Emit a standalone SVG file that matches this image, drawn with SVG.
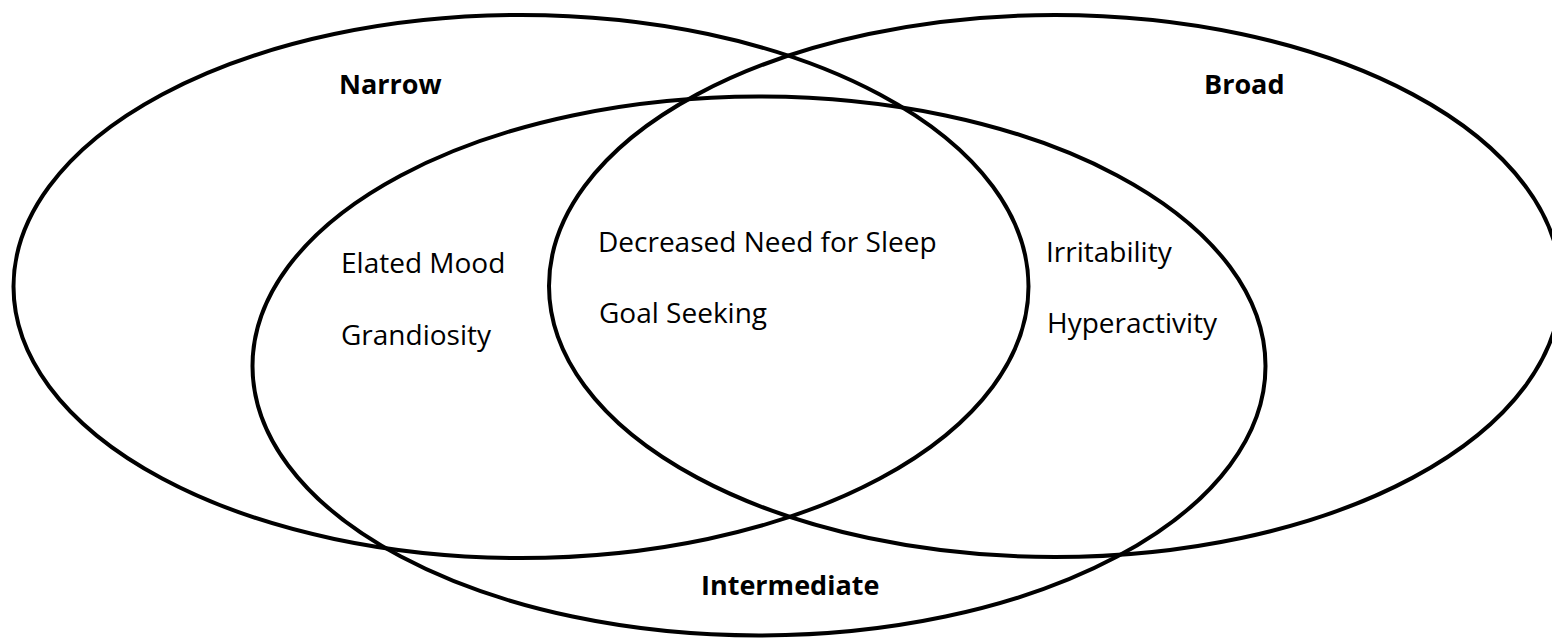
<svg xmlns="http://www.w3.org/2000/svg" width="1552" height="641" viewBox="0 0 1552 641">
<style>
.set{fill:none;stroke:#000;stroke-width:4}
.lbl{font-family:"Open Sans","Liberation Sans",sans-serif;font-size:28px;fill:#000}
.ttl{font-family:"Open Sans","Liberation Sans",sans-serif;font-size:27px;font-weight:bold;fill:#000}
</style>
<rect width="1552" height="641" fill="#fff"/>
<g id="narrow">
<ellipse class="set" cx="521" cy="286.5" rx="507.5" ry="271.5"/>
<text class="ttl" x="339" y="94">Narrow</text>
</g>
<g id="broad">
<ellipse class="set" cx="1055" cy="286" rx="506" ry="271"/>
<text class="ttl" x="1204" y="94">Broad</text>
</g>
<g id="intermediate">
<ellipse class="set" cx="759" cy="366" rx="506.5" ry="269.5"/>
<text class="ttl" x="701" y="595">Intermediate</text>
</g>
<g id="items">
<text class="lbl" x="341" y="273">Elated Mood</text>
<text class="lbl" x="341" y="345">Grandiosity</text>
<text class="lbl" x="598" y="252">Decreased Need for Sleep</text>
<text class="lbl" x="599" y="323">Goal Seeking</text>
<text class="lbl" x="1046" y="262">Irritability</text>
<text class="lbl" x="1047" y="333">Hyperactivity</text>
</g>
<g id="connectors"></g>
</svg>
